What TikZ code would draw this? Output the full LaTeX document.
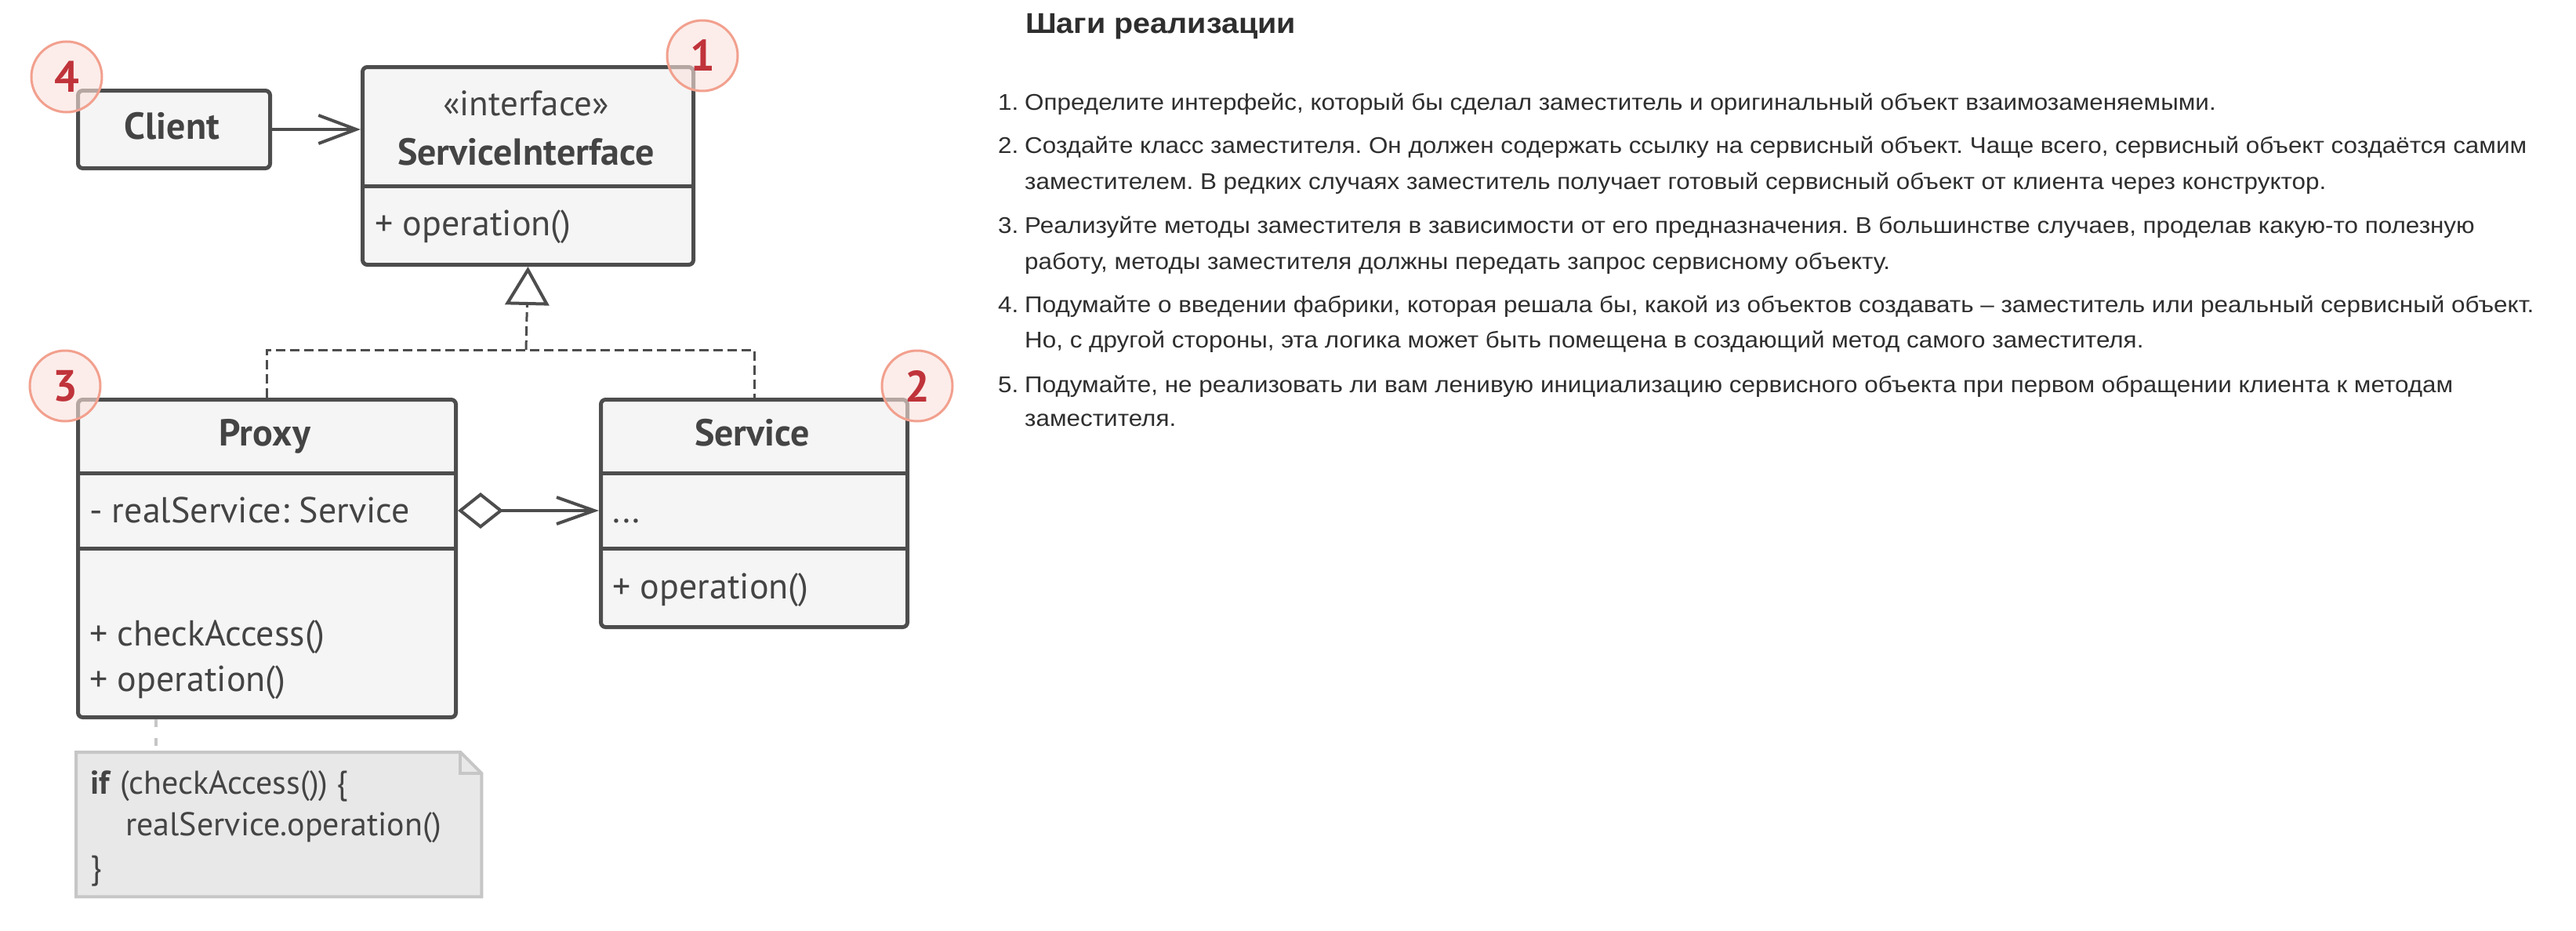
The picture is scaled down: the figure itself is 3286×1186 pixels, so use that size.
\documentclass[tikz,border=0pt]{standalone}
\usepackage{fontspec}
\setmainfont{Liberation Sans}
\newfontfamily\bodyfont[FakeStretch=1.083]{Liberation Sans}
\newfontfamily\dfont{PT Sans}
\usetikzlibrary{arrows.meta}
\definecolor{strk}{HTML}{4D4D4D}
\definecolor{boxfill}{HTML}{F5F5F5}
\definecolor{txt}{HTML}{444444}
\definecolor{badgeline}{HTML}{F2A08E}
\definecolor{badgefill}{HTML}{FBE2DC}
\definecolor{badgenum}{HTML}{C0333A}
\definecolor{notefill}{HTML}{E8E8E8}
\definecolor{noteline}{HTML}{C6C6C6}
\definecolor{bodytxt}{HTML}{2E2E2E}
\frenchspacing
\begin{document}
\begin{tikzpicture}[x=1pt,y=-1pt,
  box/.style={draw=strk, line width=5pt, fill=boxfill, rounded corners=6pt, anchor=north west, inner sep=0pt},
  divider/.style={draw=strk, line width=5pt},
  lbl/.style={font=\dfont\fontsize{46}{54}\selectfont, text=txt, inner sep=0pt, anchor=base west},
  notetxt/.style={font=\dfont\fontsize{42}{48}\selectfont, text=txt, inner sep=0pt, anchor=base west},
  cname/.style={font=\dfont\bfseries\fontsize{48}{54}\selectfont, text=txt, inner sep=0pt, anchor=base},
  stereo/.style={font=\dfont\fontsize{45}{54}\selectfont, text=txt, inner sep=0pt, anchor=base},
  badge/.style={circle, draw=badgeline, line width=3pt, fill=badgefill, fill opacity=0.6, text opacity=1, minimum size=90pt, inner sep=0pt, text=badgenum, font=\dfont\bfseries\fontsize{56}{60}\selectfont},
  wire/.style={draw=strk, line width=4pt},
  real/.style={draw=strk, line width=3pt, dash pattern=on 12pt off 6pt},
  notelink/.style={draw=noteline, line width=4pt, dash pattern=on 10pt off 14pt},
  body/.style={font=\bodyfont\fontsize{29}{35}\selectfont, text=bodytxt, inner sep=0pt, anchor=base west},
  head/.style={font=\bodyfont\bfseries\fontsize{36.5}{42}\selectfont, text=bodytxt, inner sep=0pt, anchor=base west}
]
\useasboundingbox (0,0) rectangle (3286,1186);
\fill[white] (0,0) rectangle (3286,1186);

% ---- Client
\node[box, minimum width=245pt, minimum height=99pt] (client) at (97,113) {};
\node[cname] (clientname) at (219.5,177) {Client};

% ---- ServiceInterface
\node[box, minimum width=422pt, minimum height=252pt] (si) at (460,83) {};
\draw[divider] (si.west |- 0,237) -- (si.east |- 0,237);
\node[stereo] (sistereo) at (671,147) {«interface»};
\node[cname] (siname) at (671,210) {ServiceInterface};
\node[lbl] (siop) at (478,300) {+ operation()};

% ---- Proxy
\node[box, minimum width=482pt, minimum height=405pt] (proxy) at (97,507) {};
\draw[divider] (proxy.west |- 0,603) -- (proxy.east |- 0,603);
\draw[divider] (proxy.west |- 0,699) -- (proxy.east |- 0,699);
\node[cname] (proxyname) at (338,568) {Proxy};
\node[lbl] (proxyfield) at (114,666) {- realService: Service};
\node[lbl] (proxycheck) at (114,823) {+ checkAccess()};
\node[lbl] (proxyop) at (114,881) {+ operation()};

% ---- Service
\node[box, minimum width=391pt, minimum height=290pt] (service) at (764,507) {};
\draw[divider] (service.west |- 0,603) -- (service.east |- 0,603);
\draw[divider] (service.west |- 0,699) -- (service.east |- 0,699);
\node[cname] (servicename) at (959.5,568) {Service};
\node[lbl] (servicefield) at (781,666) {...};
\node[lbl] (serviceop) at (781,763) {+ operation()};

% ---- Note
\node[anchor=north west, minimum width=517pt, minimum height=184pt, inner sep=0pt] (note) at (97,959) {};
\draw[draw=noteline, fill=notefill, line width=4pt, line join=miter]
  (note.north west) -- ([xshift=-27pt]note.north east) -- ([yshift=-27pt]note.north east)
  -- (note.south east) -- (note.south west) -- cycle;
\draw[draw=noteline, line width=4pt] ([xshift=-27pt]note.north east) -- ([xshift=-27pt,yshift=-27pt]note.north east) -- ([yshift=-27pt]note.north east);
\node[notetxt] (n1) at (115,1012) {\textbf{if} (checkAccess()) \{};
\node[notetxt] (n2) at (160,1065) {realService.operation()};
\node[notetxt] (n3) at (115,1120) {\}};

% ---- connectors
\draw[wire, -{Straight Barb[length=48pt, width=36pt]}] (client.east) -- (client.east -| si.west);
\coordinate (junc) at (671,446);
\draw[real] (proxy.north) |- (junc) -| (service.north);
\draw[real, -{Triangle[length=49pt, width=56pt, fill=white, line width=4pt]}] (junc) -- (si.south);
\coordinate (aggy) at (0,651);
\draw[wire, {Diamond[length=58pt, width=46pt, fill=white]}-{Straight Barb[length=48pt, width=34pt]}] (proxy.east |- aggy) -- (service.west |- aggy);
\draw[notelink] ([xshift=102pt]proxy.south west) -- ([xshift=102pt]note.north west);

% ---- badges
\node[badge] (b1) at (896,71) {1};
\node[badge] (b4) at (85,98) {4};
\node[badge] (b3) at (83,492) {3};
\node[badge] (b2) at (1170,492) {2};

% ---- right text
\node[head] (title) at (1308,42) {Шаги реализации};
\node[body] (m1) at (1273,140) {1.};
\node[body] (t1) at (1307,140) {Определите интерфейс, который бы сделал заместитель и оригинальный объект взаимозаменяемыми.};
\node[body] (m2) at (1273,195) {2.};
\node[body] (t2a) at (1307,195) {Создайте класс заместителя. Он должен содержать ссылку на сервисный объект. Чаще всего, сервисный объект создаётся самим};
\node[body] (t2b) at (1307,241) {заместителем. В редких случаях заместитель получает готовый сервисный объект от клиента через конструктор.};
\node[body] (m3) at (1273,297) {3.};
\node[body] (t3a) at (1307,297) {Реализуйте методы заместителя в зависимости от его предназначения. В большинстве случаев, проделав какую-то полезную};
\node[body] (t3b) at (1307,343) {работу, методы заместителя должны передать запрос сервисному объекту.};
\node[body] (m4) at (1273,398) {4.};
\node[body] (t4a) at (1307,398) {Подумайте о введении фабрики, которая решала бы, какой из объектов создавать – заместитель или реальный сервисный объект.};
\node[body] (t4b) at (1307,443) {Но, с другой стороны, эта логика может быть помещена в создающий метод самого заместителя.};
\node[body] (m5) at (1273,500) {5.};
\node[body] (t5a) at (1307,500) {Подумайте, не реализовать ли вам ленивую инициализацию сервисного объекта при первом обращении клиента к методам};
\node[body] (t5b) at (1307,543) {заместителя.};
\end{tikzpicture}
\end{document}
